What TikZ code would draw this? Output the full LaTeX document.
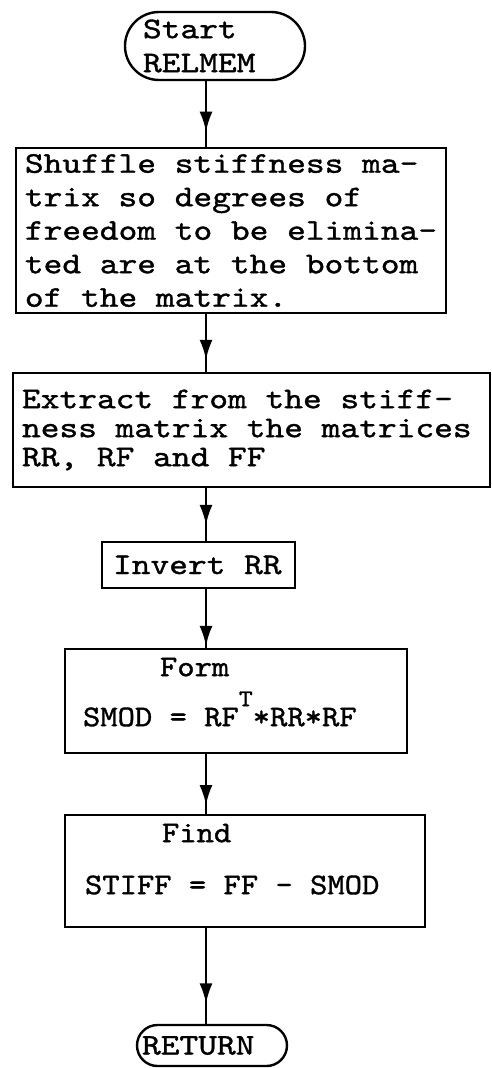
\documentclass[tikz,border=0pt]{standalone}
\usepackage{fontspec}
\newfontfamily\typer{lmmono10-regular.otf}[FakeStretch=1.19, FakeBold=1.2]
\newfontfamily\typernarrow{lmmono10-regular.otf}[FakeStretch=1.1, FakeBold=1.2]
\newcommand\wideface[1]{\typer\fontsize{30}{#1}\selectfont\spaceskip=18.7pt\relax}
\newcommand\narrowface[1]{\typernarrow\fontsize{30}{#1}\selectfont\spaceskip=17.3pt\relax}
\usetikzlibrary{positioning,arrows.meta,decorations.markings}

\begin{document}
\begin{tikzpicture}[x=1pt, y=-1pt, font=\wideface{34},
  box/.style={rectangle, draw, line width=2.4pt, outer sep=0pt, inner ysep=0pt, align=flush left},
  term/.style={box, rounded corners=#1},
  flow/.style={line width=2.4pt, decoration={markings, mark=at position #1 with {\arrow{Latex[length=20pt,width=13pt]}}}, postaction={decorate}}]
        \useasboundingbox (0,0) rectangle (492,1068);
        \coordinate (spine) at (206,0);

        \node[term=34pt, minimum width=180pt, minimum height=68pt, inner xsep=18pt, text width=144pt] (start) at (215,46) {Start\\RELMEM};

        \node[box, minimum width=430pt, minimum height=165pt, inner xsep=9pt, font=\wideface{33.5}, below=68pt of start, xshift=16pt] (shuffle) {Shuffle stiffness ma-\\trix so degrees of\\freedom to be elimina-\\ted are at the bottom\\of the matrix.};

        \node[box, minimum width=477pt, minimum height=114pt, inner xsep=9pt, text width=459pt, font=\wideface{29}, below=60pt of shuffle, xshift=20.5pt] (extract) {Extract from the stiff-\\ness matrix the matrices\\RR, RF and FF};

        \node[box, minimum width=193pt, minimum height=46pt, inner xsep=11pt, text width=171pt, below=55pt of extract, xshift=-53pt] (invert) {Invert RR};

        \node[box, minimum width=342pt, minimum height=104pt, inner xsep=18pt, text width=306pt, font=\narrowface{50}, below=61pt of invert, xshift=37.5pt] (form) {\hspace*{77pt}Form\\SMOD = RF\raisebox{20pt}{\fontsize{24}{24}\selectfont T}*RR*RF\rule[-18pt]{0pt}{18pt}};

        \node[box, minimum width=360pt, minimum height=112pt, inner xsep=20pt, text width=320pt, font=\narrowface{52}, below=62pt of form, xshift=9pt] (find) {\hspace*{77pt}Find\\STIFF = FF - SMOD\rule[-24pt]{0pt}{24pt}};

        \node[term=20.5pt, minimum width=150pt, minimum height=41pt, inner xsep=5pt, text width=140pt, below=98pt of find, xshift=-33pt] (return) {RETURN};

        % flow lines, heads part way down
        \draw[flow=0.76] (start.south -| spine) -- (shuffle.north -| spine);
        \draw[flow=0.78] (shuffle.south -| spine) -- (extract.north -| spine);
        \draw[flow=0.69] (extract.south -| spine) -- (invert.north -| spine);
        \draw[flow=0.95] (invert.south -| spine) -- (form.north -| spine);
        \draw[flow=0.84] (form.south -| spine) -- (find.north -| spine);
        \draw[flow=0.78] (find.south -| spine) -- (return.north -| spine);
      \end{tikzpicture}
\end{document}
